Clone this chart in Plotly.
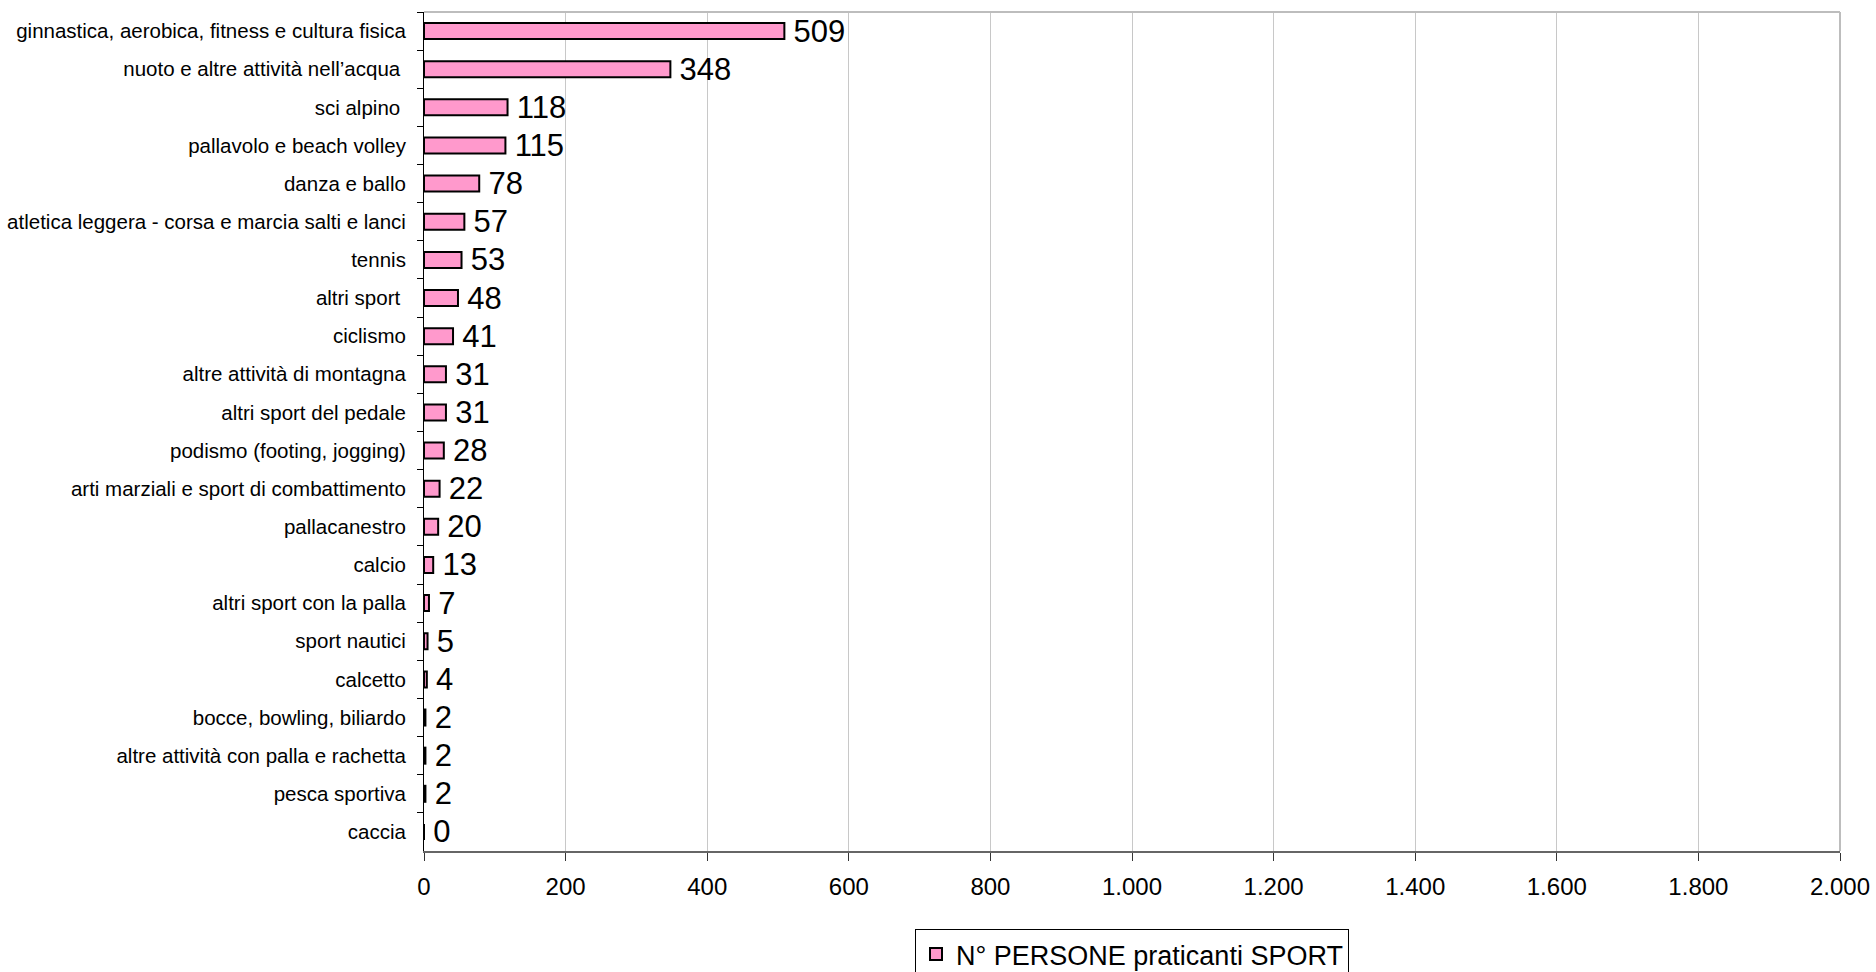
import plotly.graph_objects as go

categories = [
    "ginnastica, aerobica, fitness e cultura fisica",
    "nuoto e altre attività nell’acqua\u00a0",
    "sci alpino\u00a0",
    "pallavolo e beach volley",
    "danza e ballo",
    "atletica leggera - corsa e marcia salti e lanci",
    "tennis",
    "altri sport\u00a0",
    "ciclismo",
    "altre attività di montagna",
    "altri sport del pedale",
    "podismo (footing, jogging)",
    "arti marziali e sport di combattimento",
    "pallacanestro",
    "calcio",
    "altri sport con la palla",
    "sport nautici",
    "calcetto",
    "bocce, bowling, biliardo",
    "altre attività con palla e rachetta",
    "pesca sportiva",
    "caccia",
]
values = [509, 348, 118, 115, 78, 57, 53, 48, 41, 31, 31, 28, 22, 20, 13, 7, 5, 4, 2, 2, 2, 0]
series_name = "N° PERSONE praticanti SPORT"
x_ticks = [0, 200, 400, 600, 800, 1000, 1200, 1400, 1600, 1800, 2000]
x_tick_labels = ["0", "200", "400", "600", "800", "1.000", "1.200", "1.400", "1.600", "1.800", "2.000"]

FONT = "Liberation Sans, Arial, sans-serif"

fig = go.Figure()
fig.add_trace(go.Bar(
    y=categories,
    x=values,
    orientation="h",
    name=series_name,
    marker=dict(color="#ff99cc", line=dict(color="#000000", width=2)),
    text=["\u2009" + str(v) for v in values],
    textposition="outside",
    constraintext="none",
    textfont=dict(size=31, color="#000000", family=FONT),
    cliponaxis=False,
    width=0.42,
))

fig.update_layout(
    width=1876,
    height=972,
    margin=dict(l=424, r=36, t=12, b=121, autoexpand=False),
    paper_bgcolor="#ffffff",
    plot_bgcolor="#ffffff",
    font=dict(family=FONT, color="#000000"),
    showlegend=True,
    hovermode=False,
    legend=dict(
        orientation="h",
        xref="paper",
        x=0.5, xanchor="center",
        yref="container",
        y=1 - 929 / 972, yanchor="top",
        bordercolor="#000000",
        borderwidth=1,
        font=dict(size=27, family=FONT, color="#000000"),
    ),
    xaxis=dict(
        range=[0, 2000],
        tickvals=x_ticks,
        ticktext=x_tick_labels,
        showgrid=True,
        gridcolor="#c8c8c8",
        gridwidth=1,
        zeroline=False,
        showline=True,
        linecolor="#666666",
        linewidth=2,
        ticks="outside",
        ticklen=8,
        tickcolor="#333333",
        tickfont=dict(size=24, family=FONT, color="#000000"),
        ticklabelstandoff=5,
        automargin=False,
        fixedrange=True,
    ),
    yaxis=dict(
        autorange="reversed",
        type="category",
        showgrid=False,
        showline=True,
        linecolor="#000000",
        linewidth=1,
        ticks="outside",
        tickson="boundaries",
        ticklen=6,
        tickcolor="#000000",
        tickfont=dict(size=20.5, family=FONT, color="#000000"),
        ticklabelstandoff=13,
        automargin=False,
        fixedrange=True,
    ),
    shapes=[
        dict(type="line", xref="paper", yref="paper", x0=0, x1=1, y0=1, y1=1,
             line=dict(color="#bdbdbd", width=2)),
        dict(type="line", xref="paper", yref="paper", x0=1, x1=1, y0=0, y1=1,
             line=dict(color="#bdbdbd", width=2)),
    ],
)

fig.write_html(
    "out.html",
    config={"displayModeBar": False},
    post_script="document.body.style.margin='0';document.body.style.overflow='hidden';",
)
